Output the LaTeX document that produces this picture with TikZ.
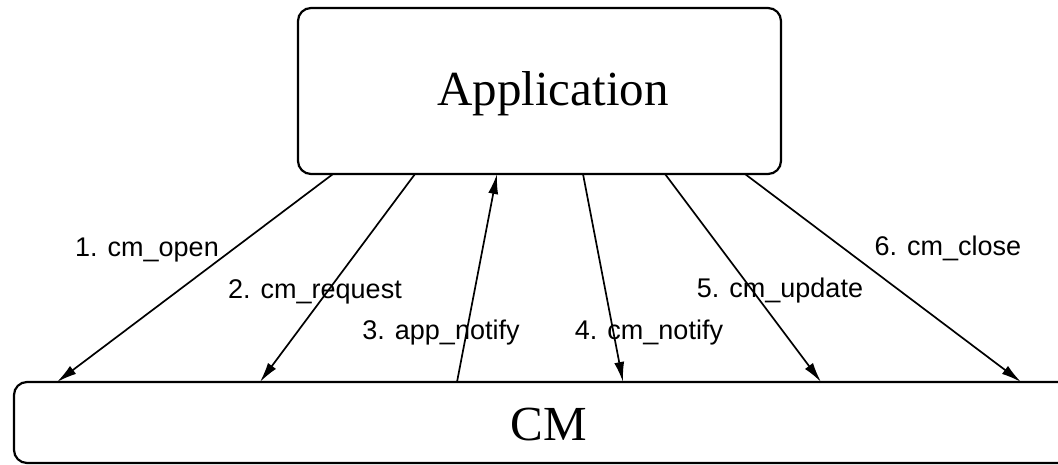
\documentclass[tikz,border=0pt]{standalone}
\usepackage{fontspec}
\setmainfont{Liberation Serif}
\newfontfamily\lblfont{Liberation Sans}
\usetikzlibrary{arrows.meta}
\begin{document}
\begin{tikzpicture}[x=1pt,y=-1pt,
  box/.style={draw,line width=2.2pt,rounded corners=13pt,inner sep=0pt},
  msg/.style={line width=1.7pt,-{Latex[length=20pt,width=10pt]}},
  lbl/.style={font=\lblfont\fontsize{27}{27}\selectfont,inner sep=0pt},
  big/.style={font=\fontsize{49}{49}\selectfont,inner sep=0pt}]
\useasboundingbox (0,0) rectangle (1058,465);
\begin{scope}
\clip (0,0) rectangle (1058,465);
\node[box,minimum width=483pt,minimum height=166pt] (app) at (539.5,91) {};
\node[box,minimum width=1070pt,minimum height=81pt] (cm) at (549,422.5) {};
\end{scope}
\node[big] (apptxt) at (553,94) {Application};
\node[big] (cmtxt) at (549,425) {CM};
% endpoints on Application (bottom y=174)
\coordinate (a1) at (333,174);
\coordinate (a2) at (415,174);
\coordinate (a3) at (497,174);
\coordinate (a4) at (583,174);
\coordinate (a5) at (665,174);
\coordinate (a6) at (745,174);
% endpoints on CM (top y=382)
\coordinate (c1) at (57,382);
\coordinate (c2) at (260,382);
\coordinate (c3) at (457,382);
\coordinate (c4) at (623,382);
\coordinate (c5) at (821,382);
\coordinate (c6) at (1021,382);
\draw[msg] (a1) -- (c1);
\draw[msg] (a2) -- (c2);
\draw[msg] (c3) -- (a3);
\draw[msg] (a4) -- (c4);
\draw[msg] (a5) -- (c5);
\draw[msg] (a6) -- (c6);
\node[lbl] (l1) at (147,250) {1. cm\_open};
\node[lbl] (l2) at (315,292) {2. cm\_request};
\node[lbl] (l3) at (441,333) {3. app\_notify};
\node[lbl] (l4) at (649,333) {4. cm\_notify};
\node[lbl] (l5) at (780,291) {5. cm\_update};
\node[lbl] (l6) at (948,248) {6. cm\_close};
\end{tikzpicture}
\end{document}
